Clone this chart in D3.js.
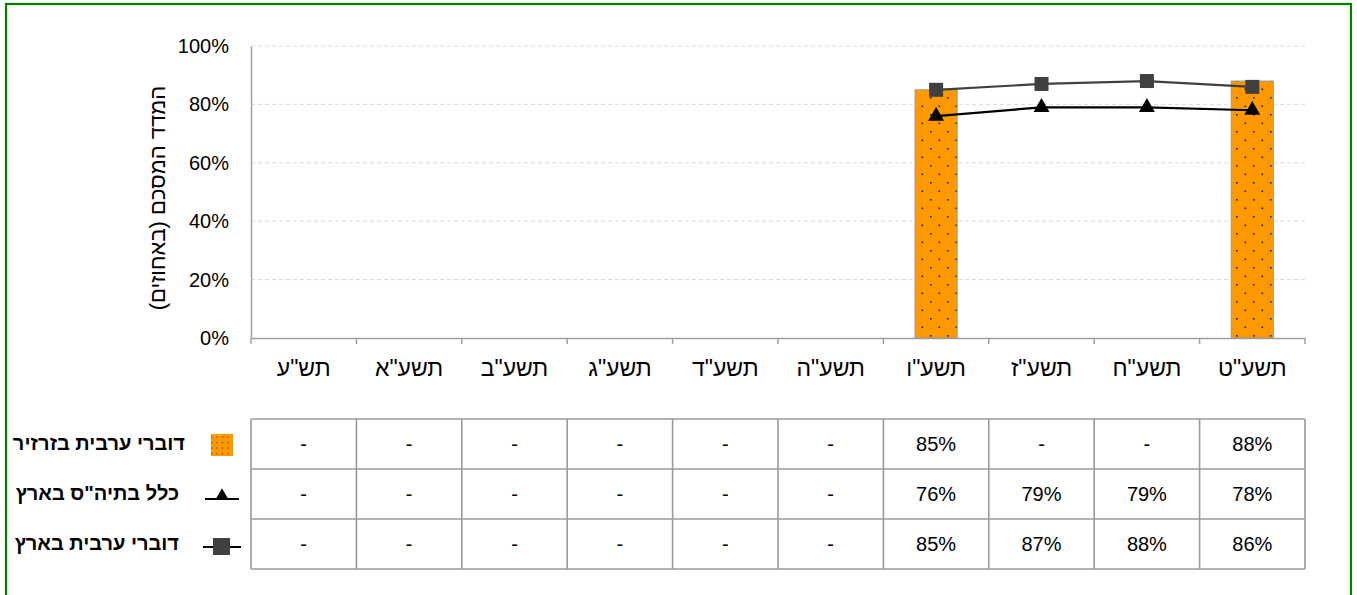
<!DOCTYPE html>
<html lang="he">
<head>
<meta charset="utf-8">
<script src="https://cdn.jsdelivr.net/npm/d3@7"></script>
<style>
  html, body { margin: 0; padding: 0; background: #fff; }
  svg { display: block; }
</style>
</head>
<body>
<svg id="chart" width="1357" height="595"></svg>
<script>
// School years, left to right
const years = ['תש"ע', 'תשע"א', 'תשע"ב', 'תשע"ג', 'תשע"ד', 'תשע"ה', 'תשע"ו', 'תשע"ז', 'תשע"ח', 'תשע"ט'];

// Arabic speakers in the district (bars)
const districtArabic = [null, null, null, null, null, null, 85, null, null, 88];
// All schools nationwide (triangles)
const nationalAll = [null, null, null, null, null, null, 76, 79, 79, 78];
// Arabic speakers nationwide (squares)
const nationalArabic = [null, null, null, null, null, null, 85, 87, 88, 86];

const yTicks = [0, 20, 40, 60, 80, 100];

const seriesNames = ['דוברי ערבית בזרזיר', 'כלל בתיה"ס בארץ', 'דוברי ערבית בארץ'];
const yTitle = 'המדד המסכם (באחוזים)';

const svg = d3.select('#chart');
const font = '"Liberation Sans", Arial, sans-serif';

const plot = { left: 251, right: 1305, top: 46, bottom: 338 };

const x = d3.scaleBand().domain(years).range([plot.left, plot.right]).padding(0);
const y = d3.scaleLinear().domain([0, 100]).range([plot.bottom, plot.top]);

// dotted fill for the bars
const defs = svg.append('defs');
const pat = defs.append('pattern')
  .attr('id', 'dots').attr('patternUnits', 'userSpaceOnUse')
  .attr('width', 17).attr('height', 17);
pat.append('rect').attr('width', 17).attr('height', 17).attr('fill', '#ff9900');
pat.append('rect').attr('x', 3.5).attr('y', 3.5).attr('width', 1.6).attr('height', 1.6).attr('fill', '#1a1a1a');
pat.append('rect').attr('x', 12).attr('y', 12).attr('width', 1.6).attr('height', 1.6).attr('fill', '#1a1a1a');

const legendPat = defs.append('pattern')
  .attr('id', 'dotsSmall').attr('patternUnits', 'userSpaceOnUse')
  .attr('width', 5.5).attr('height', 5.5);
legendPat.append('rect').attr('width', 5.5).attr('height', 5.5).attr('fill', '#ff9900');
legendPat.append('rect').attr('x', 2).attr('y', 2).attr('width', 1).attr('height', 1.3).attr('fill', '#333');

// outer frame
svg.append('rect')
  .attr('x', 6).attr('y', 4).attr('width', 1345).attr('height', 700)
  .attr('fill', 'none').attr('stroke', '#008000').attr('stroke-width', 2.2);

// gridlines
svg.append('g')
  .selectAll('line')
  .data(yTicks.filter(d => d > 0))
  .join('line')
  .attr('x1', plot.left).attr('x2', plot.right)
  .attr('y1', d => y(d)).attr('y2', d => y(d))
  .attr('stroke', '#d9d9d9').attr('stroke-width', 1)
  .attr('stroke-dasharray', '4,3');

// y axis
const yAxis = svg.append('g')
  .attr('transform', `translate(${plot.left},0)`)
  .call(d3.axisLeft(y).tickValues(yTicks).tickSize(0).tickPadding(22).tickFormat(d => d + '%'));
yAxis.select('.domain').attr('stroke', '#a0a0a0').attr('stroke-width', 1.5);
yAxis.selectAll('text')
  .attr('font-family', font).attr('font-size', 20).attr('fill', '#000');

// x axis
const xAxis = svg.append('g')
  .attr('transform', `translate(0,${plot.bottom})`)
  .call(d3.axisBottom(x).tickSize(0).tickPadding(22));
xAxis.select('.domain').attr('stroke', '#a0a0a0').attr('stroke-width', 1.5);
xAxis.selectAll('text')
  .attr('font-family', font).attr('font-size', 23).attr('fill', '#000')
  .attr('direction', 'rtl').attr('text-anchor', 'middle');
// boundary ticks between categories
const bounds = years.map(d => x(d)).concat([x.range()[1]]);
xAxis.selectAll('.bound')
  .data(bounds)
  .join('line')
  .attr('class', 'bound')
  .attr('x1', d => d).attr('x2', d => d)
  .attr('y1', 0).attr('y2', 6)
  .attr('stroke', '#a0a0a0').attr('stroke-width', 1.5);

// y axis title
svg.append('text')
  .attr('transform', `translate(165,${(plot.top + plot.bottom) / 2 + 6}) rotate(-90)`)
  .attr('text-anchor', 'middle').attr('direction', 'rtl')
  .attr('font-family', font).attr('font-size', 22).attr('fill', '#000')
  .text(yTitle);

// bars
const barW = x.bandwidth() * 0.4;
svg.append('g')
  .selectAll('rect')
  .data(years.map((yr, i) => ({ yr, v: districtArabic[i] })).filter(d => d.v != null))
  .join('rect')
  .attr('x', d => x(d.yr) + (x.bandwidth() - barW) / 2)
  .attr('y', d => y(d.v))
  .attr('width', barW)
  .attr('height', d => y(0) - y(d.v))
  .attr('fill', 'url(#dots)')
  .attr('stroke', '#9a9a9a').attr('stroke-width', 1);

const cx = yr => x(yr) + x.bandwidth() / 2;

function drawLine(values, color, width) {
  const pts = years.map((yr, i) => ({ yr, v: values[i] })).filter(d => d.v != null);
  svg.append('path')
    .datum(pts)
    .attr('fill', 'none').attr('stroke', color).attr('stroke-width', width)
    .attr('d', d3.line().x(d => cx(d.yr)).y(d => y(d.v)));
  return pts;
}

// nationwide – all schools (triangles)
const triPts = drawLine(nationalAll, '#000', 2.2);
svg.append('g').selectAll('path')
  .data(triPts).join('path')
  .attr('transform', d => `translate(${cx(d.yr)},${y(d.v)})`)
  .attr('d', d3.symbol(d3.symbolTriangle, 110)())
  .attr('fill', '#000');

// nationwide – Arabic speakers (squares)
const sqPts = drawLine(nationalArabic, '#404040', 2.2);
svg.append('g').selectAll('rect')
  .data(sqPts).join('rect')
  .attr('x', d => cx(d.yr) - 7).attr('y', d => y(d.v) - 7)
  .attr('width', 14).attr('height', 14)
  .attr('fill', '#404040');

// data table
const table = { top: 419, rowH: 50 };
const rows = [districtArabic, nationalAll, nationalArabic];
const tg = svg.append('g');
const tableBottom = table.top + rows.length * table.rowH;
d3.range(rows.length + 1).forEach(i => {
  tg.append('line')
    .attr('x1', plot.left).attr('x2', plot.right)
    .attr('y1', table.top + i * table.rowH).attr('y2', table.top + i * table.rowH)
    .attr('stroke', '#9a9a9a').attr('stroke-width', 1.6);
});
tg.selectAll('.vline')
  .data(bounds).join('line')
  .attr('class', 'vline')
  .attr('x1', d => d).attr('x2', d => d)
  .attr('y1', table.top).attr('y2', tableBottom)
  .attr('stroke', '#9a9a9a').attr('stroke-width', 1.6);

rows.forEach((r, i) => {
  tg.append('g').selectAll('text')
    .data(years.map((yr, j) => ({ yr, v: r[j] })))
    .join('text')
    .attr('x', d => cx(d.yr))
    .attr('y', table.top + i * table.rowH + table.rowH / 2 + 7)
    .attr('text-anchor', 'middle')
    .attr('font-family', font).attr('font-size', 20).attr('fill', '#000')
    .text(d => d.v == null ? '-' : d.v + '%');
});

// legend keys at the left of the table
const lg = svg.append('g');
const labelRight = [185, 179, 179];
seriesNames.forEach((name, i) => {
  const cyRow = table.top + i * table.rowH + table.rowH / 2;
  lg.append('text')
    .attr('x', labelRight[i]).attr('y', cyRow + 6)
    .attr('text-anchor', 'start').attr('direction', 'rtl')
    .attr('font-family', font).attr('font-size', 20).attr('font-weight', 'bold').attr('fill', '#000')
    .text(name);
});
// bar key
lg.append('rect')
  .attr('x', 211).attr('y', table.top + 15).attr('width', 22).attr('height', 22)
  .attr('fill', 'url(#dotsSmall)');
// triangle key
const triY = table.top + table.rowH + 30;
lg.append('line').attr('x1', 205).attr('x2', 239).attr('y1', triY).attr('y2', triY)
  .attr('stroke', '#000').attr('stroke-width', 2);
lg.append('path')
  .attr('transform', `translate(222,${triY - 3})`)
  .attr('d', d3.symbol(d3.symbolTriangle, 80)())
  .attr('fill', '#000');
// square key
const sqY = table.top + 2 * table.rowH + 28;
lg.append('line').attr('x1', 203).attr('x2', 241).attr('y1', sqY).attr('y2', sqY)
  .attr('stroke', '#000').attr('stroke-width', 2);
lg.append('rect')
  .attr('x', 213).attr('y', sqY - 9).attr('width', 17).attr('height', 17)
  .attr('fill', '#404040');
</script>
</body>
</html>
